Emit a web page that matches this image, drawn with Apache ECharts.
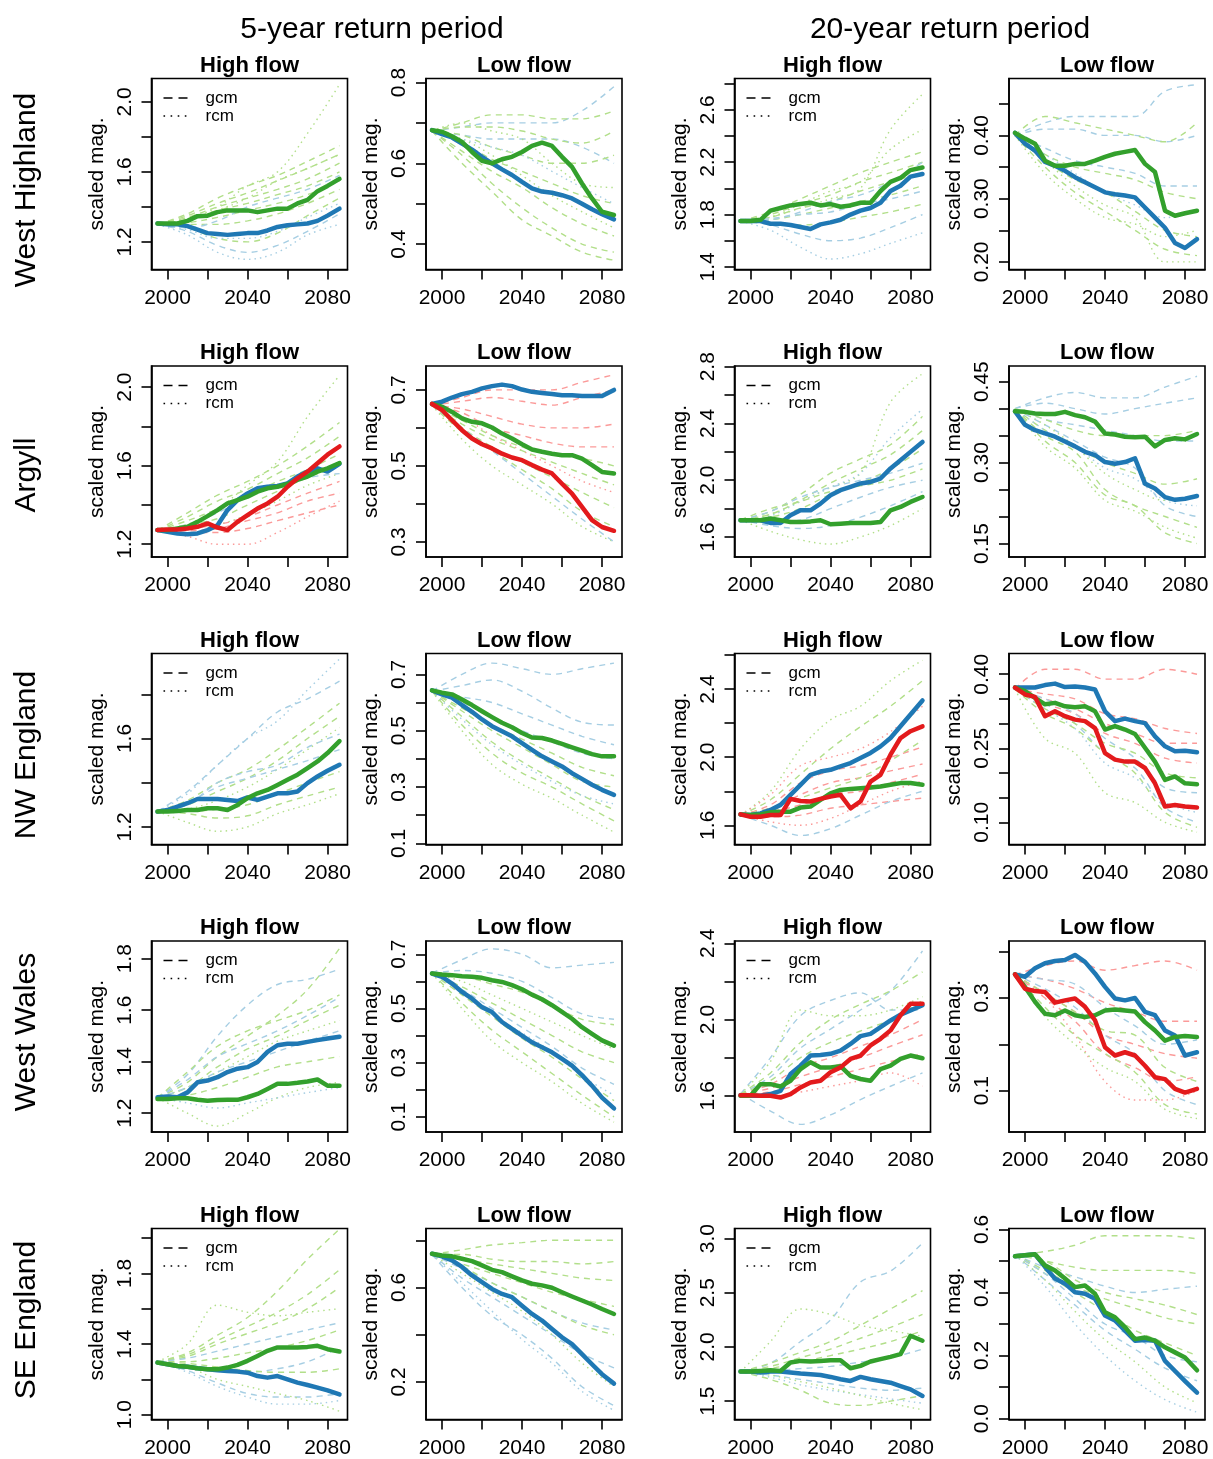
<!DOCTYPE html>
<html>
<head>
<meta charset="utf-8">
<title>Scaled flow magnitudes</title>
<script src="https://cdn.jsdelivr.net/npm/echarts@6/dist/echarts.min.js"></script>
<style>
  html, body { margin: 0; padding: 0; background: #fff; }
  #main { width: 1213px; height: 1459px; }
</style>
</head>
<body>
<div id="main"></div>
<script>
// years of the thick lines
var YEARS = [1995, 2000, 2005, 2010, 2015, 2020, 2025, 2030, 2035, 2040, 2045, 2050, 2055, 2060, 2065, 2070, 2075, 2080, 2086];
// years at which the thin member lines were read
var ENS_YEARS = [1995, 2010, 2025, 2040, 2055, 2070, 2086];
var X_TICKS = [2000, 2020, 2040, 2060, 2080];
var X_LABELS = [2000, 2040, 2080];
var ROW_NAMES = ['West Highland', 'Argyll', 'NW England', 'West Wales', 'SE England'];
var COL_TITLES = ['High flow', 'Low flow', 'High flow', 'Low flow'];
var PERIODS = ['5-year return period', '20-year return period'];

// ---- West Highland ----
var wh5H_blue = [1.305, 1.30, 1.30, 1.29, 1.27, 1.25, 1.245, 1.24, 1.245, 1.25, 1.25, 1.265, 1.285, 1.295, 1.30, 1.305, 1.32, 1.35, 1.39];
var wh5H_green = [1.305, 1.305, 1.305, 1.32, 1.347, 1.35, 1.37, 1.38, 1.38, 1.38, 1.37, 1.38, 1.39, 1.39, 1.42, 1.44, 1.49, 1.52, 1.56];
var wh5H_ens = [
  ['g', 'gcm', [1.3, 1.36, 1.45, 1.52, 1.58, 1.66, 1.75]],
  ['g', 'gcm', [1.3, 1.35, 1.42, 1.48, 1.55, 1.62, 1.70]],
  ['g', 'gcm', [1.3, 1.34, 1.40, 1.45, 1.50, 1.56, 1.65]],
  ['g', 'gcm', [1.3, 1.33, 1.38, 1.42, 1.47, 1.52, 1.60]],
  ['g', 'gcm', [1.3, 1.31, 1.34, 1.38, 1.42, 1.47, 1.55]],
  ['g', 'gcm', [1.3, 1.30, 1.30, 1.32, 1.36, 1.42, 1.50]],
  ['g', 'gcm', [1.3, 1.28, 1.22, 1.20, 1.25, 1.35, 1.45]],
  ['g', 'rcm', [1.3, 1.33, 1.40, 1.52, 1.60, 1.82, 2.10]],
  ['g', 'rcm', [1.3, 1.32, 1.38, 1.45, 1.55, 1.62, 1.70]],
  ['b', 'gcm', [1.3, 1.28, 1.32, 1.40, 1.45, 1.50, 1.58]],
  ['b', 'gcm', [1.3, 1.26, 1.18, 1.14, 1.18, 1.26, 1.36]],
  ['b', 'rcm', [1.3, 1.24, 1.14, 1.10, 1.14, 1.24, 1.30]],
  ['b', 'rcm', [1.3, 1.27, 1.22, 1.22, 1.26, 1.34, 1.42]]
];
var wh5L_blue = [0.682, 0.672, 0.664, 0.649, 0.634, 0.616, 0.60, 0.585, 0.571, 0.554, 0.538, 0.53, 0.527, 0.521, 0.513, 0.50, 0.486, 0.474, 0.461];
var wh5L_green = [0.682, 0.678, 0.667, 0.653, 0.628, 0.606, 0.60, 0.61, 0.616, 0.628, 0.643, 0.651, 0.643, 0.616, 0.591, 0.55, 0.513, 0.48, 0.472];
var wh5L_ens = [
  ['b', 'gcm', [0.68, 0.69, 0.70, 0.70, 0.70, 0.73, 0.79]],
  ['b', 'gcm', [0.68, 0.67, 0.66, 0.66, 0.66, 0.64, 0.60]],
  ['g', 'gcm', [0.68, 0.70, 0.72, 0.72, 0.71, 0.71, 0.73]],
  ['g', 'gcm', [0.68, 0.69, 0.69, 0.68, 0.66, 0.65, 0.68]],
  ['g', 'gcm', [0.68, 0.67, 0.64, 0.62, 0.60, 0.60, 0.62]],
  ['g', 'gcm', [0.68, 0.65, 0.61, 0.58, 0.55, 0.52, 0.50]],
  ['g', 'gcm', [0.68, 0.63, 0.58, 0.54, 0.49, 0.45, 0.42]],
  ['g', 'gcm', [0.68, 0.62, 0.55, 0.49, 0.44, 0.40, 0.38]],
  ['g', 'gcm', [0.68, 0.60, 0.53, 0.46, 0.42, 0.38, 0.36]],
  ['g', 'rcm', [0.68, 0.66, 0.62, 0.57, 0.52, 0.48, 0.44]],
  ['g', 'rcm', [0.68, 0.70, 0.68, 0.66, 0.60, 0.55, 0.54]],
  ['b', 'rcm', [0.68, 0.66, 0.64, 0.62, 0.58, 0.54, 0.50]]
];
var wh20H_blue = [1.75, 1.75, 1.75, 1.73, 1.73, 1.72, 1.705, 1.69, 1.725, 1.74, 1.76, 1.80, 1.83, 1.85, 1.89, 1.98, 2.02, 2.09, 2.11];
var wh20H_green = [1.75, 1.75, 1.76, 1.83, 1.85, 1.87, 1.88, 1.89, 1.87, 1.88, 1.86, 1.87, 1.89, 1.89, 1.98, 2.05, 2.08, 2.14, 2.16];
var wh20H_ens = [
  ['g', 'rcm', [1.75, 1.78, 1.85, 1.92, 2.00, 2.45, 2.72]],
  ['g', 'rcm', [1.75, 1.78, 1.88, 1.98, 2.05, 2.30, 2.45]],
  ['g', 'gcm', [1.75, 1.82, 1.92, 2.02, 2.12, 2.20, 2.28]],
  ['g', 'gcm', [1.75, 1.80, 1.88, 1.95, 2.05, 2.12, 2.20]],
  ['g', 'gcm', [1.75, 1.78, 1.85, 1.90, 1.98, 2.05, 2.12]],
  ['g', 'gcm', [1.75, 1.76, 1.80, 1.85, 1.90, 1.95, 2.02]],
  ['g', 'gcm', [1.75, 1.74, 1.72, 1.74, 1.78, 1.82, 1.88]],
  ['b', 'gcm', [1.75, 1.72, 1.65, 1.60, 1.62, 1.70, 1.80]],
  ['b', 'rcm', [1.75, 1.68, 1.55, 1.46, 1.50, 1.58, 1.66]],
  ['b', 'gcm', [1.75, 1.77, 1.80, 1.82, 1.88, 1.92, 1.98]],
  ['b', 'gcm', [1.75, 1.76, 1.82, 1.90, 1.95, 2.05, 2.20]]
];
var wh20L_blue = [0.404, 0.387, 0.376, 0.358, 0.352, 0.344, 0.334, 0.326, 0.318, 0.31, 0.307, 0.305, 0.302, 0.286, 0.27, 0.254, 0.23, 0.222, 0.236];
var wh20L_green = [0.404, 0.395, 0.387, 0.36, 0.352, 0.352, 0.355, 0.355, 0.36, 0.366, 0.371, 0.374, 0.377, 0.355, 0.342, 0.281, 0.273, 0.277, 0.281];
var wh20L_ens = [
  ['b', 'gcm', [0.40, 0.42, 0.43, 0.43, 0.43, 0.47, 0.48]],
  ['b', 'gcm', [0.40, 0.41, 0.41, 0.40, 0.40, 0.39, 0.40]],
  ['b', 'gcm', [0.40, 0.38, 0.36, 0.35, 0.34, 0.32, 0.32]],
  ['g', 'gcm', [0.40, 0.43, 0.42, 0.41, 0.40, 0.39, 0.42]],
  ['g', 'gcm', [0.40, 0.37, 0.35, 0.34, 0.33, 0.31, 0.30]],
  ['g', 'gcm', [0.40, 0.36, 0.33, 0.31, 0.28, 0.25, 0.24]],
  ['g', 'gcm', [0.40, 0.35, 0.31, 0.28, 0.25, 0.22, 0.21]],
  ['g', 'rcm', [0.40, 0.34, 0.30, 0.27, 0.26, 0.24, 0.25]],
  ['g', 'rcm', [0.40, 0.36, 0.32, 0.29, 0.27, 0.20, 0.20]],
  ['b', 'rcm', [0.40, 0.37, 0.34, 0.31, 0.29, 0.27, 0.28]]
];

// ---- Argyll ----
var ar5H_blue = [1.272, 1.263, 1.255, 1.251, 1.255, 1.272, 1.297, 1.374, 1.425, 1.459, 1.485, 1.493, 1.497, 1.51, 1.545, 1.57, 1.587, 1.57, 1.61];
var ar5H_green = [1.272, 1.272, 1.28, 1.289, 1.314, 1.343, 1.374, 1.408, 1.425, 1.442, 1.468, 1.485, 1.493, 1.507, 1.528, 1.545, 1.57, 1.587, 1.613];
var ar5H_red = [1.272, 1.275, 1.275, 1.28, 1.289, 1.306, 1.285, 1.272, 1.314, 1.348, 1.382, 1.408, 1.442, 1.493, 1.536, 1.57, 1.613, 1.656, 1.698];
var ar5H_ens = [
  ['g', 'rcm', [1.27, 1.30, 1.38, 1.50, 1.62, 1.85, 2.06]],
  ['g', 'gcm', [1.27, 1.36, 1.45, 1.52, 1.60, 1.70, 1.82]],
  ['g', 'gcm', [1.27, 1.34, 1.42, 1.48, 1.56, 1.64, 1.75]],
  ['g', 'gcm', [1.27, 1.32, 1.38, 1.45, 1.52, 1.58, 1.66]],
  ['g', 'gcm', [1.27, 1.30, 1.33, 1.40, 1.47, 1.54, 1.60]],
  ['g', 'rcm', [1.27, 1.29, 1.30, 1.35, 1.42, 1.50, 1.56]],
  ['r', 'gcm', [1.27, 1.28, 1.30, 1.34, 1.40, 1.46, 1.52]],
  ['r', 'gcm', [1.27, 1.27, 1.28, 1.32, 1.36, 1.42, 1.46]],
  ['r', 'gcm', [1.27, 1.26, 1.26, 1.28, 1.32, 1.36, 1.40]],
  ['r', 'rcm', [1.27, 1.24, 1.20, 1.20, 1.26, 1.34, 1.42]],
  ['b', 'gcm', [1.27, 1.30, 1.36, 1.44, 1.50, 1.54, 1.56]]
];
var ar5L_blue = [0.663, 0.669, 0.68, 0.689, 0.695, 0.704, 0.71, 0.714, 0.71, 0.701, 0.695, 0.692, 0.689, 0.686, 0.686, 0.684, 0.684, 0.684, 0.70];
var ar5L_green = [0.663, 0.656, 0.642, 0.625, 0.616, 0.612, 0.601, 0.585, 0.572, 0.557, 0.543, 0.537, 0.532, 0.528, 0.528, 0.519, 0.502, 0.484, 0.48];
var ar5L_red = [0.663, 0.647, 0.62, 0.594, 0.572, 0.557, 0.546, 0.532, 0.522, 0.515, 0.502, 0.49, 0.48, 0.453, 0.427, 0.392, 0.357, 0.339, 0.329];
var ar5L_ens = [
  ['r', 'gcm', [0.66, 0.68, 0.70, 0.70, 0.70, 0.72, 0.74]],
  ['r', 'gcm', [0.66, 0.67, 0.68, 0.67, 0.66, 0.68, 0.70]],
  ['r', 'gcm', [0.66, 0.65, 0.63, 0.61, 0.60, 0.60, 0.61]],
  ['r', 'gcm', [0.66, 0.64, 0.60, 0.58, 0.56, 0.55, 0.55]],
  ['r', 'rcm', [0.66, 0.63, 0.58, 0.54, 0.50, 0.46, 0.43]],
  ['g', 'gcm', [0.66, 0.61, 0.57, 0.54, 0.51, 0.48, 0.45]],
  ['g', 'gcm', [0.66, 0.60, 0.55, 0.51, 0.47, 0.43, 0.39]],
  ['g', 'gcm', [0.66, 0.59, 0.54, 0.49, 0.44, 0.38, 0.34]],
  ['g', 'rcm', [0.66, 0.57, 0.50, 0.45, 0.40, 0.34, 0.30]],
  ['b', 'gcm', [0.66, 0.60, 0.54, 0.48, 0.42, 0.36, 0.30]],
  ['g', 'gcm', [0.66, 0.62, 0.58, 0.55, 0.53, 0.52, 0.50]]
];
var ar20H_blue = [1.718, 1.718, 1.718, 1.699, 1.699, 1.753, 1.788, 1.788, 1.835, 1.894, 1.93, 1.953, 1.977, 1.988, 2.012, 2.083, 2.141, 2.2, 2.27];
var ar20H_green = [1.718, 1.718, 1.718, 1.73, 1.718, 1.706, 1.706, 1.71, 1.718, 1.69, 1.694, 1.699, 1.699, 1.699, 1.706, 1.788, 1.812, 1.847, 1.882];
var ar20H_ens = [
  ['g', 'rcm', [1.72, 1.76, 1.85, 1.95, 2.05, 2.55, 2.75]],
  ['b', 'rcm', [1.72, 1.75, 1.85, 1.95, 2.05, 2.30, 2.50]],
  ['g', 'gcm', [1.72, 1.78, 1.90, 2.05, 2.15, 2.25, 2.45]],
  ['g', 'gcm', [1.72, 1.76, 1.86, 1.98, 2.08, 2.18, 2.35]],
  ['g', 'gcm', [1.72, 1.74, 1.80, 1.90, 1.98, 2.08, 2.22]],
  ['b', 'gcm', [1.72, 1.78, 1.88, 1.95, 2.00, 2.05, 2.12]],
  ['b', 'gcm', [1.72, 1.70, 1.72, 1.80, 1.88, 1.95, 2.00]],
  ['b', 'gcm', [1.72, 1.68, 1.66, 1.68, 1.74, 1.82, 1.92]],
  ['g', 'rcm', [1.72, 1.64, 1.58, 1.55, 1.60, 1.68, 1.80]],
  ['g', 'gcm', [1.72, 1.80, 1.85, 1.92, 1.96, 2.00, 2.08]]
];
var ar20L_blue = [0.395, 0.37, 0.36, 0.354, 0.348, 0.339, 0.33, 0.32, 0.314, 0.301, 0.298, 0.301, 0.308, 0.261, 0.252, 0.236, 0.231, 0.233, 0.238];
var ar20L_green = [0.395, 0.394, 0.391, 0.39, 0.39, 0.394, 0.388, 0.384, 0.376, 0.354, 0.352, 0.348, 0.347, 0.348, 0.33, 0.342, 0.345, 0.343, 0.353];
var ar20L_ens = [
  ['b', 'gcm', [0.40, 0.42, 0.43, 0.42, 0.42, 0.44, 0.46]],
  ['b', 'gcm', [0.40, 0.41, 0.40, 0.39, 0.40, 0.41, 0.42]],
  ['b', 'gcm', [0.40, 0.38, 0.37, 0.36, 0.35, 0.34, 0.34]],
  ['g', 'gcm', [0.40, 0.38, 0.36, 0.35, 0.35, 0.35, 0.36]],
  ['g', 'gcm', [0.40, 0.36, 0.33, 0.30, 0.28, 0.26, 0.27]],
  ['g', 'gcm', [0.40, 0.35, 0.32, 0.25, 0.22, 0.20, 0.18]],
  ['g', 'gcm', [0.40, 0.34, 0.30, 0.24, 0.22, 0.17, 0.15]],
  ['g', 'rcm', [0.40, 0.33, 0.29, 0.23, 0.21, 0.18, 0.16]],
  ['b', 'rcm', [0.40, 0.36, 0.33, 0.29, 0.27, 0.23, 0.22]],
  ['b', 'gcm', [0.40, 0.37, 0.34, 0.31, 0.29, 0.22, 0.20]],
  ['g', 'rcm', [0.40, 0.37, 0.33, 0.28, 0.25, 0.23, 0.24]]
];

// ---- NW England ----
var nw5H_blue = [1.269, 1.276, 1.292, 1.307, 1.326, 1.326, 1.326, 1.322, 1.317, 1.333, 1.322, 1.337, 1.352, 1.352, 1.36, 1.398, 1.428, 1.454, 1.481];
var nw5H_green = [1.269, 1.269, 1.272, 1.276, 1.276, 1.284, 1.284, 1.276, 1.299, 1.33, 1.352, 1.367, 1.39, 1.413, 1.436, 1.466, 1.496, 1.534, 1.588];
var nw5H_ens = [
  ['b', 'rcm', [1.27, 1.35, 1.48, 1.60, 1.68, 1.82, 1.96]],
  ['b', 'gcm', [1.27, 1.36, 1.48, 1.60, 1.72, 1.78, 1.86]],
  ['g', 'gcm', [1.27, 1.32, 1.40, 1.46, 1.55, 1.65, 1.76]],
  ['g', 'gcm', [1.27, 1.30, 1.36, 1.42, 1.50, 1.60, 1.70]],
  ['g', 'rcm', [1.27, 1.28, 1.32, 1.38, 1.46, 1.55, 1.65]],
  ['b', 'gcm', [1.27, 1.31, 1.38, 1.42, 1.46, 1.50, 1.55]],
  ['g', 'gcm', [1.27, 1.27, 1.28, 1.30, 1.35, 1.40, 1.45]],
  ['g', 'gcm', [1.27, 1.26, 1.24, 1.25, 1.30, 1.34, 1.38]],
  ['g', 'rcm', [1.27, 1.22, 1.18, 1.20, 1.26, 1.30, 1.35]],
  ['b', 'gcm', [1.27, 1.30, 1.40, 1.45, 1.48, 1.56, 1.62]]
];
var nw5L_blue = [0.643, 0.629, 0.617, 0.591, 0.567, 0.54, 0.516, 0.498, 0.48, 0.456, 0.432, 0.409, 0.391, 0.373, 0.349, 0.329, 0.308, 0.29, 0.272];
var nw5L_green = [0.643, 0.635, 0.629, 0.611, 0.591, 0.569, 0.548, 0.528, 0.512, 0.492, 0.476, 0.474, 0.465, 0.453, 0.441, 0.429, 0.417, 0.409, 0.409];
var nw5L_ens = [
  ['b', 'gcm', [0.64, 0.70, 0.74, 0.72, 0.70, 0.72, 0.74]],
  ['b', 'gcm', [0.64, 0.66, 0.68, 0.64, 0.58, 0.53, 0.52]],
  ['b', 'gcm', [0.64, 0.62, 0.60, 0.56, 0.52, 0.48, 0.45]],
  ['b', 'gcm', [0.64, 0.60, 0.55, 0.50, 0.46, 0.42, 0.40]],
  ['g', 'gcm', [0.64, 0.57, 0.50, 0.44, 0.38, 0.32, 0.30]],
  ['g', 'gcm', [0.64, 0.55, 0.46, 0.39, 0.33, 0.27, 0.22]],
  ['g', 'gcm', [0.64, 0.52, 0.42, 0.35, 0.30, 0.24, 0.18]],
  ['g', 'rcm', [0.64, 0.50, 0.38, 0.31, 0.26, 0.20, 0.14]],
  ['b', 'rcm', [0.64, 0.54, 0.45, 0.38, 0.32, 0.27, 0.24]],
  ['g', 'gcm', [0.64, 0.58, 0.52, 0.47, 0.42, 0.37, 0.34]]
];
var nw20H_blue = [1.664, 1.66, 1.67, 1.69, 1.72, 1.779, 1.838, 1.897, 1.916, 1.926, 1.946, 1.966, 1.995, 2.025, 2.064, 2.113, 2.182, 2.251, 2.334];
var nw20H_green = [1.664, 1.66, 1.664, 1.676, 1.68, 1.68, 1.704, 1.71, 1.749, 1.788, 1.808, 1.814, 1.818, 1.822, 1.828, 1.838, 1.848, 1.848, 1.838];
var nw20H_red = [1.664, 1.65, 1.65, 1.66, 1.66, 1.755, 1.743, 1.74, 1.755, 1.769, 1.779, 1.70, 1.74, 1.857, 1.897, 2.015, 2.113, 2.153, 2.182];
var nw20H_ens = [
  ['g', 'rcm', [1.66, 1.80, 2.05, 2.22, 2.30, 2.45, 2.57]],
  ['g', 'gcm', [1.66, 1.75, 1.90, 2.05, 2.18, 2.30, 2.45]],
  ['r', 'rcm', [1.66, 1.78, 1.95, 2.00, 2.05, 2.15, 2.30]],
  ['r', 'gcm', [1.66, 1.72, 1.85, 1.92, 1.95, 2.00, 2.06]],
  ['r', 'gcm', [1.66, 1.70, 1.78, 1.85, 1.88, 1.92, 1.96]],
  ['r', 'gcm', [1.66, 1.68, 1.72, 1.78, 1.80, 1.85, 1.90]],
  ['r', 'gcm', [1.66, 1.65, 1.66, 1.70, 1.72, 1.74, 1.76]],
  ['b', 'gcm', [1.66, 1.60, 1.54, 1.58, 1.66, 1.74, 1.80]],
  ['g', 'gcm', [1.66, 1.70, 1.76, 1.82, 1.88, 1.98, 2.10]],
  ['r', 'rcm', [1.66, 1.62, 1.60, 1.64, 1.72, 1.80, 1.86]]
];
var nw20L_blue = [0.373, 0.373, 0.373, 0.378, 0.381, 0.374, 0.375, 0.373, 0.369, 0.325, 0.305, 0.31, 0.305, 0.301, 0.274, 0.254, 0.244, 0.245, 0.242];
var nw20L_green = [0.373, 0.366, 0.352, 0.339, 0.342, 0.335, 0.333, 0.335, 0.325, 0.288, 0.295, 0.288, 0.279, 0.251, 0.223, 0.186, 0.193, 0.179, 0.177];
var nw20L_red = [0.373, 0.359, 0.354, 0.315, 0.325, 0.315, 0.308, 0.305, 0.291, 0.24, 0.227, 0.223, 0.223, 0.21, 0.179, 0.132, 0.135, 0.132, 0.13];
var nw20L_ens = [
  ['r', 'gcm', [0.37, 0.41, 0.41, 0.39, 0.39, 0.41, 0.40]],
  ['r', 'gcm', [0.37, 0.36, 0.35, 0.32, 0.31, 0.29, 0.28]],
  ['r', 'gcm', [0.37, 0.35, 0.33, 0.30, 0.28, 0.26, 0.26]],
  ['r', 'gcm', [0.37, 0.34, 0.32, 0.28, 0.26, 0.23, 0.22]],
  ['b', 'gcm', [0.37, 0.34, 0.30, 0.24, 0.21, 0.13, 0.10]],
  ['g', 'gcm', [0.37, 0.32, 0.29, 0.24, 0.20, 0.12, 0.09]],
  ['g', 'rcm', [0.37, 0.27, 0.24, 0.16, 0.14, 0.10, 0.08]],
  ['b', 'gcm', [0.37, 0.35, 0.32, 0.27, 0.23, 0.17, 0.16]],
  ['g', 'gcm', [0.37, 0.33, 0.30, 0.26, 0.24, 0.20, 0.19]],
  ['b', 'rcm', [0.37, 0.33, 0.29, 0.22, 0.19, 0.14, 0.12]]
];

// ---- West Wales ----
var ww5H_blue = [1.262, 1.265, 1.262, 1.281, 1.32, 1.327, 1.34, 1.36, 1.373, 1.379, 1.399, 1.438, 1.464, 1.47, 1.47, 1.477, 1.484, 1.49, 1.497];
var ww5H_green = [1.255, 1.255, 1.258, 1.258, 1.252, 1.248, 1.251, 1.252, 1.252, 1.262, 1.275, 1.294, 1.314, 1.314, 1.318, 1.323, 1.331, 1.307, 1.307];
var ww5H_ens = [
  ['g', 'gcm', [1.26, 1.32, 1.42, 1.50, 1.58, 1.68, 1.84]],
  ['b', 'gcm', [1.26, 1.35, 1.50, 1.62, 1.70, 1.72, 1.76]],
  ['g', 'gcm', [1.26, 1.36, 1.46, 1.52, 1.56, 1.60, 1.66]],
  ['g', 'gcm', [1.26, 1.30, 1.38, 1.45, 1.50, 1.56, 1.62]],
  ['g', 'rcm', [1.26, 1.30, 1.36, 1.42, 1.48, 1.52, 1.56]],
  ['b', 'gcm', [1.26, 1.30, 1.36, 1.40, 1.44, 1.48, 1.52]],
  ['g', 'gcm', [1.26, 1.27, 1.30, 1.34, 1.38, 1.40, 1.42]],
  ['g', 'rcm', [1.26, 1.20, 1.15, 1.20, 1.26, 1.30, 1.32]],
  ['b', 'rcm', [1.26, 1.24, 1.22, 1.24, 1.26, 1.28, 1.30]],
  ['b', 'gcm', [1.26, 1.33, 1.42, 1.47, 1.52, 1.58, 1.65]]
];
var ww5L_blue = [0.629, 0.617, 0.592, 0.561, 0.536, 0.505, 0.487, 0.45, 0.425, 0.40, 0.375, 0.357, 0.338, 0.314, 0.289, 0.254, 0.215, 0.171, 0.131];
var ww5L_green = [0.629, 0.625, 0.623, 0.619, 0.617, 0.613, 0.604, 0.598, 0.586, 0.571, 0.551, 0.534, 0.512, 0.487, 0.462, 0.431, 0.406, 0.382, 0.363];
var ww5L_ens = [
  ['b', 'gcm', [0.63, 0.68, 0.72, 0.70, 0.65, 0.66, 0.67]],
  ['b', 'gcm', [0.63, 0.64, 0.63, 0.60, 0.54, 0.48, 0.46]],
  ['g', 'gcm', [0.63, 0.62, 0.59, 0.56, 0.51, 0.46, 0.44]],
  ['g', 'gcm', [0.63, 0.58, 0.52, 0.46, 0.40, 0.34, 0.30]],
  ['b', 'gcm', [0.63, 0.57, 0.50, 0.43, 0.36, 0.28, 0.22]],
  ['g', 'gcm', [0.63, 0.55, 0.47, 0.39, 0.32, 0.24, 0.16]],
  ['g', 'gcm', [0.63, 0.52, 0.42, 0.34, 0.26, 0.18, 0.10]],
  ['g', 'rcm', [0.63, 0.50, 0.38, 0.30, 0.23, 0.15, 0.08]],
  ['b', 'rcm', [0.63, 0.56, 0.48, 0.41, 0.34, 0.25, 0.18]],
  ['g', 'rcm', [0.63, 0.60, 0.55, 0.50, 0.45, 0.40, 0.35]]
];
var ww20H_blue = [1.603, 1.60, 1.60, 1.609, 1.626, 1.714, 1.758, 1.811, 1.814, 1.82, 1.837, 1.872, 1.913, 1.925, 1.96, 1.995, 2.025, 2.048, 2.075];
var ww20H_green = [1.60, 1.60, 1.661, 1.661, 1.649, 1.679, 1.74, 1.776, 1.749, 1.749, 1.755, 1.705, 1.688, 1.679, 1.74, 1.758, 1.793, 1.811, 1.797];
var ww20H_red = [1.603, 1.603, 1.60, 1.60, 1.591, 1.609, 1.644, 1.67, 1.679, 1.723, 1.749, 1.793, 1.811, 1.864, 1.899, 1.943, 2.022, 2.083, 2.083];
var ww20H_ens = [
  ['b', 'gcm', [1.61, 1.70, 1.85, 1.95, 2.05, 2.15, 2.36]],
  ['g', 'gcm', [1.61, 1.72, 1.88, 2.00, 2.08, 2.15, 2.25]],
  ['b', 'gcm', [1.61, 1.80, 2.02, 2.10, 2.14, 2.05, 2.05]],
  ['g', 'rcm', [1.61, 1.78, 2.05, 2.02, 2.02, 2.05, 2.12]],
  ['r', 'gcm', [1.61, 1.66, 1.75, 1.80, 1.86, 1.92, 2.00]],
  ['r', 'gcm', [1.61, 1.64, 1.70, 1.75, 1.80, 1.86, 1.92]],
  ['r', 'gcm', [1.61, 1.62, 1.66, 1.70, 1.74, 1.78, 1.82]],
  ['r', 'rcm', [1.61, 1.60, 1.62, 1.65, 1.68, 1.72, 1.65]],
  ['b', 'gcm', [1.61, 1.52, 1.45, 1.50, 1.58, 1.65, 1.72]],
  ['g', 'gcm', [1.61, 1.68, 1.80, 1.88, 1.94, 2.00, 2.10]]
];
var ww20L_blue = [0.351, 0.346, 0.364, 0.375, 0.38, 0.382, 0.393, 0.378, 0.353, 0.324, 0.299, 0.295, 0.30, 0.27, 0.263, 0.23, 0.219, 0.176, 0.183];
var ww20L_green = [0.351, 0.324, 0.292, 0.266, 0.263, 0.273, 0.263, 0.259, 0.263, 0.273, 0.275, 0.273, 0.271, 0.248, 0.23, 0.208, 0.216, 0.218, 0.216];
var ww20L_red = [0.351, 0.32, 0.315, 0.313, 0.29, 0.295, 0.299, 0.281, 0.252, 0.194, 0.176, 0.183, 0.176, 0.154, 0.129, 0.125, 0.104, 0.096, 0.104];
var ww20L_ens = [
  ['r', 'gcm', [0.35, 0.37, 0.38, 0.36, 0.37, 0.38, 0.36]],
  ['r', 'gcm', [0.35, 0.34, 0.32, 0.29, 0.27, 0.25, 0.25]],
  ['r', 'gcm', [0.35, 0.31, 0.27, 0.22, 0.20, 0.18, 0.17]],
  ['r', 'rcm', [0.35, 0.30, 0.22, 0.12, 0.08, 0.08, 0.10]],
  ['r', 'gcm', [0.35, 0.30, 0.25, 0.18, 0.15, 0.12, 0.13]],
  ['g', 'gcm', [0.35, 0.28, 0.22, 0.18, 0.14, 0.07, 0.05]],
  ['g', 'rcm', [0.35, 0.26, 0.20, 0.15, 0.12, 0.06, 0.04]],
  ['b', 'gcm', [0.35, 0.32, 0.28, 0.22, 0.18, 0.10, 0.07]],
  ['b', 'gcm', [0.35, 0.34, 0.33, 0.28, 0.24, 0.20, 0.21]],
  ['g', 'gcm', [0.35, 0.31, 0.27, 0.23, 0.22, 0.15, 0.12]]
];

// ---- SE England ----
var se5H_blue = [1.295, 1.286, 1.276, 1.271, 1.263, 1.257, 1.252, 1.248, 1.244, 1.238, 1.219, 1.21, 1.219, 1.20, 1.182, 1.168, 1.153, 1.138, 1.115];
var se5H_green = [1.295, 1.286, 1.276, 1.271, 1.263, 1.257, 1.257, 1.267, 1.282, 1.305, 1.333, 1.362, 1.381, 1.381, 1.381, 1.384, 1.39, 1.371, 1.358];
var se5H_ens = [
  ['g', 'gcm', [1.30, 1.35, 1.45, 1.55, 1.70, 1.88, 2.05]],
  ['g', 'rcm', [1.30, 1.40, 1.62, 1.58, 1.56, 1.58, 1.60]],
  ['g', 'gcm', [1.30, 1.34, 1.42, 1.50, 1.58, 1.68, 1.82]],
  ['g', 'gcm', [1.30, 1.33, 1.40, 1.46, 1.52, 1.60, 1.72]],
  ['b', 'gcm', [1.30, 1.32, 1.36, 1.40, 1.44, 1.48, 1.52]],
  ['g', 'gcm', [1.30, 1.30, 1.32, 1.35, 1.38, 1.42, 1.48]],
  ['b', 'gcm', [1.30, 1.28, 1.25, 1.24, 1.26, 1.30, 1.38]],
  ['b', 'gcm', [1.30, 1.25, 1.18, 1.12, 1.10, 1.10, 1.12]],
  ['b', 'rcm', [1.30, 1.24, 1.16, 1.10, 1.06, 1.06, 1.08]],
  ['g', 'rcm', [1.30, 1.27, 1.20, 1.16, 1.12, 1.08, 1.02]],
  ['g', 'gcm', [1.30, 1.29, 1.27, 1.25, 1.24, 1.24, 1.26]]
];
var se5L_blue = [0.743, 0.732, 0.715, 0.687, 0.651, 0.623, 0.594, 0.573, 0.559, 0.523, 0.488, 0.46, 0.424, 0.389, 0.36, 0.318, 0.275, 0.233, 0.193];
var se5L_green = [0.743, 0.736, 0.732, 0.722, 0.712, 0.694, 0.675, 0.665, 0.647, 0.63, 0.616, 0.609, 0.599, 0.58, 0.562, 0.545, 0.528, 0.509, 0.488];
var se5L_ens = [
  ['g', 'gcm', [0.74, 0.76, 0.78, 0.79, 0.80, 0.80, 0.80]],
  ['g', 'gcm', [0.74, 0.74, 0.72, 0.71, 0.71, 0.70, 0.71]],
  ['g', 'gcm', [0.74, 0.72, 0.70, 0.68, 0.66, 0.64, 0.63]],
  ['g', 'gcm', [0.74, 0.70, 0.66, 0.62, 0.58, 0.55, 0.52]],
  ['b', 'gcm', [0.74, 0.68, 0.62, 0.56, 0.50, 0.45, 0.42]],
  ['b', 'gcm', [0.74, 0.64, 0.56, 0.48, 0.40, 0.32, 0.26]],
  ['b', 'gcm', [0.74, 0.60, 0.48, 0.40, 0.30, 0.18, 0.10]],
  ['b', 'rcm', [0.74, 0.62, 0.50, 0.38, 0.28, 0.16, 0.08]],
  ['g', 'rcm', [0.74, 0.66, 0.58, 0.50, 0.40, 0.28, 0.18]],
  ['g', 'gcm', [0.74, 0.69, 0.62, 0.56, 0.50, 0.44, 0.40]]
];
var se20H_blue = [1.772, 1.772, 1.763, 1.772, 1.772, 1.763, 1.754, 1.748, 1.741, 1.723, 1.701, 1.686, 1.723, 1.701, 1.686, 1.67, 1.639, 1.608, 1.547];
var se20H_green = [1.772, 1.772, 1.778, 1.785, 1.778, 1.856, 1.871, 1.865, 1.871, 1.877, 1.877, 1.803, 1.825, 1.865, 1.887, 1.908, 1.933, 2.103, 2.057];
var se20H_ens = [
  ['b', 'gcm', [1.77, 1.85, 2.05, 2.25, 2.60, 2.70, 2.96]],
  ['g', 'rcm', [1.77, 2.05, 2.35, 2.30, 2.20, 2.15, 2.10]],
  ['g', 'gcm', [1.77, 1.85, 1.95, 2.05, 2.20, 2.35, 2.52]],
  ['g', 'gcm', [1.77, 1.82, 1.90, 1.98, 2.08, 2.18, 2.30]],
  ['g', 'gcm', [1.77, 1.80, 1.86, 1.92, 1.98, 2.05, 2.15]],
  ['b', 'gcm', [1.77, 1.78, 1.80, 1.82, 1.86, 1.90, 1.98]],
  ['b', 'gcm', [1.77, 1.74, 1.70, 1.66, 1.62, 1.60, 1.62]],
  ['g', 'gcm', [1.77, 1.70, 1.60, 1.48, 1.46, 1.50, 1.55]],
  ['b', 'rcm', [1.77, 1.72, 1.65, 1.60, 1.56, 1.52, 1.48]],
  ['g', 'rcm', [1.77, 1.74, 1.68, 1.62, 1.55, 1.48, 1.42]]
];
var se20L_blue = [0.515, 0.518, 0.521, 0.481, 0.444, 0.428, 0.401, 0.396, 0.38, 0.327, 0.311, 0.279, 0.247, 0.249, 0.247, 0.183, 0.151, 0.119, 0.082];
var se20L_green = [0.515, 0.518, 0.521, 0.486, 0.47, 0.444, 0.417, 0.422, 0.396, 0.337, 0.321, 0.29, 0.252, 0.257, 0.247, 0.226, 0.21, 0.194, 0.153];
var se20L_ens = [
  ['g', 'gcm', [0.52, 0.53, 0.55, 0.58, 0.58, 0.58, 0.57]],
  ['g', 'gcm', [0.52, 0.50, 0.48, 0.47, 0.47, 0.47, 0.46]],
  ['b', 'gcm', [0.52, 0.48, 0.45, 0.42, 0.40, 0.41, 0.42]],
  ['g', 'gcm', [0.52, 0.47, 0.42, 0.38, 0.35, 0.32, 0.30]],
  ['g', 'gcm', [0.52, 0.46, 0.40, 0.34, 0.28, 0.24, 0.20]],
  ['b', 'gcm', [0.52, 0.44, 0.36, 0.28, 0.22, 0.16, 0.12]],
  ['b', 'rcm', [0.52, 0.42, 0.30, 0.20, 0.12, 0.06, 0.02]],
  ['g', 'rcm', [0.52, 0.44, 0.34, 0.25, 0.18, 0.10, 0.05]],
  ['b', 'gcm', [0.52, 0.46, 0.38, 0.30, 0.26, 0.20, 0.18]],
  ['g', 'gcm', [0.52, 0.50, 0.44, 0.40, 0.38, 0.36, 0.33]]
];

// panel table: axis range, ticks, labelled ticks, label decimals
var panels = [
  { row: 0, col: 0, min: 1.042, max: 2.134, ticks: [1.2, 1.4, 1.6, 1.8, 2.0], labels: [1.2, 1.6, 2.0], dec: 1, blue: wh5H_blue, green: wh5H_green, red: null, ens: wh5H_ens },
  { row: 0, col: 1, min: 0.337, max: 0.81, ticks: [0.4, 0.5, 0.6, 0.7, 0.8], labels: [0.4, 0.6, 0.8], dec: 1, blue: wh5L_blue, green: wh5L_green, red: null, ens: wh5L_ens },
  { row: 0, col: 2, min: 1.38, max: 2.84, ticks: [1.4, 1.6, 1.8, 2.0, 2.2, 2.4, 2.6, 2.8], labels: [1.4, 1.8, 2.2, 2.6], dec: 1, blue: wh20H_blue, green: wh20H_green, red: null, ens: wh20H_ens },
  { row: 0, col: 3, min: 0.188, max: 0.49, ticks: [0.20, 0.25, 0.30, 0.35, 0.40, 0.45], labels: [0.20, 0.30, 0.40], dec: 2, blue: wh20L_blue, green: wh20L_green, red: null, ens: wh20L_ens },
  { row: 1, col: 0, min: 1.135, max: 2.108, ticks: [1.2, 1.4, 1.6, 1.8, 2.0], labels: [1.2, 1.6, 2.0], dec: 1, blue: ar5H_blue, green: ar5H_green, red: ar5H_red, ens: ar5H_ens },
  { row: 1, col: 1, min: 0.26, max: 0.763, ticks: [0.3, 0.4, 0.5, 0.6, 0.7], labels: [0.3, 0.5, 0.7], dec: 1, blue: ar5L_blue, green: ar5L_green, red: ar5L_red, ens: ar5L_ens },
  { row: 1, col: 2, min: 1.459, max: 2.805, ticks: [1.6, 1.8, 2.0, 2.2, 2.4, 2.6, 2.8], labels: [1.6, 2.0, 2.4, 2.8], dec: 1, blue: ar20H_blue, green: ar20H_green, red: null, ens: ar20H_ens },
  { row: 1, col: 3, min: 0.125, max: 0.479, ticks: [0.15, 0.20, 0.25, 0.30, 0.35, 0.40, 0.45], labels: [0.15, 0.30, 0.45], dec: 2, blue: ar20L_blue, green: ar20L_green, red: null, ens: ar20L_ens },
  { row: 2, col: 0, min: 1.12, max: 1.985, ticks: [1.2, 1.4, 1.6, 1.8], labels: [1.2, 1.6], dec: 1, blue: nw5H_blue, green: nw5H_green, red: null, ens: nw5H_ens },
  { row: 2, col: 1, min: 0.096, max: 0.774, ticks: [0.1, 0.2, 0.3, 0.4, 0.5, 0.6, 0.7], labels: [0.1, 0.3, 0.5, 0.7], dec: 1, blue: nw5L_blue, green: nw5L_green, red: null, ens: nw5L_ens },
  { row: 2, col: 2, min: 1.487, max: 2.61, ticks: [1.6, 1.8, 2.0, 2.2, 2.4, 2.6], labels: [1.6, 2.0, 2.4], dec: 1, blue: nw20H_blue, green: nw20H_green, red: nw20H_red, ens: nw20H_ens },
  { row: 2, col: 3, min: 0.055, max: 0.442, ticks: [0.10, 0.15, 0.20, 0.25, 0.30, 0.35, 0.40], labels: [0.10, 0.25, 0.40], dec: 2, blue: nw20L_blue, green: nw20L_green, red: nw20L_red, ens: nw20L_ens },
  { row: 3, col: 0, min: 1.127, max: 1.869, ticks: [1.2, 1.4, 1.6, 1.8], labels: [1.2, 1.4, 1.6, 1.8], dec: 1, blue: ww5H_blue, green: ww5H_green, red: null, ens: ww5H_ens },
  { row: 3, col: 1, min: 0.044, max: 0.749, ticks: [0.1, 0.2, 0.3, 0.4, 0.5, 0.6, 0.7], labels: [0.1, 0.3, 0.5, 0.7], dec: 1, blue: ww5L_blue, green: ww5L_green, red: null, ens: ww5L_ens },
  { row: 3, col: 2, min: 1.41, max: 2.412, ticks: [1.6, 1.8, 2.0, 2.2, 2.4], labels: [1.6, 2.0, 2.4], dec: 1, blue: ww20H_blue, green: ww20H_green, red: ww20H_red, ens: ww20H_ens },
  { row: 3, col: 3, min: 0.011, max: 0.423, ticks: [0.1, 0.2, 0.3, 0.4], labels: [0.1, 0.3], dec: 1, blue: ww20L_blue, green: ww20L_green, red: ww20L_red, ens: ww20L_ens },
  { row: 4, col: 0, min: 0.973, max: 2.054, ticks: [1.0, 1.2, 1.4, 1.6, 1.8, 2.0], labels: [1.0, 1.4, 1.8], dec: 1, blue: se5H_blue, green: se5H_green, red: null, ens: se5H_ens },
  { row: 4, col: 1, min: 0.041, max: 0.85, ticks: [0.2, 0.4, 0.6, 0.8], labels: [0.2, 0.6], dec: 1, blue: se5L_blue, green: se5L_green, red: null, ens: se5L_ens },
  { row: 4, col: 2, min: 1.33, max: 3.093, ticks: [1.5, 2.0, 2.5, 3.0], labels: [1.5, 2.0, 2.5, 3.0], dec: 1, blue: se20H_blue, green: se20H_green, red: null, ens: se20H_ens },
  { row: 4, col: 3, min: -0.003, max: 0.603, ticks: [0.0, 0.1, 0.2, 0.3, 0.4, 0.5, 0.6], labels: [0.0, 0.2, 0.4, 0.6], dec: 1, blue: se20L_blue, green: se20L_green, red: null, ens: se20L_ens }
];

// layout
var COL_LEFT = [151.5, 426, 734.5, 1009];
var ROW_TOP = [78.5, 366, 653.5, 941, 1228.5];
var PW = 196, PH = 191;
var FONT = "'Liberation Sans', Arial, Helvetica, sans-serif";
var DARK = { b: '#1f78b4', g: '#33a02c', r: '#e31a1c' };
var LIGHT = { b: '#a6cee3', g: '#b2df8a', r: '#fb9a99' };

function pairs(xs, ys) {
  return xs.map(function (x, i) { return [x, ys[i]]; });
}

var grids = [], xAxes = [], yAxes = [], series = [], graphic = [];

panels.forEach(function (p, i) {
  var gx = COL_LEFT[p.col], gy = ROW_TOP[p.row];
  grids.push({
    left: gx, top: gy, width: PW, height: PH,
    show: true, borderColor: '#000', borderWidth: 1.6, backgroundColor: 'transparent'
  });
  xAxes.push({
    gridIndex: i, type: 'value', min: 1992, max: 2090,
    splitLine: { show: false },
    axisLine: { show: true, onZero: false, lineStyle: { color: '#000', width: 1.6 } },
    axisTick: { show: true, length: 10, customValues: X_TICKS, lineStyle: { color: '#000', width: 1.6 } },
    axisLabel: {
      customValues: X_LABELS, margin: 18, fontSize: 21, color: '#000', fontFamily: FONT,
      formatter: function (v) { return String(v); }
    }
  });
  yAxes.push({
    gridIndex: i, type: 'value', min: p.min, max: p.max,
    name: 'scaled mag.', nameLocation: 'middle', nameGap: 44,
    nameTextStyle: { fontSize: 21, color: '#000', fontFamily: FONT },
    splitLine: { show: false },
    axisLine: { show: true, onZero: false, lineStyle: { color: '#000', width: 1.6 } },
    axisTick: { show: true, length: 10, customValues: p.ticks, lineStyle: { color: '#000', width: 1.6 } },
    axisLabel: {
      customValues: p.labels, rotate: 90, margin: 16, fontSize: 21, color: '#000', fontFamily: FONT,
      formatter: (function (d) { return function (v) { return v.toFixed(d); }; })(p.dec)
    }
  });

  p.ens.forEach(function (e) {
    series.push({
      type: 'line', xAxisIndex: i, yAxisIndex: i, data: pairs(ENS_YEARS, e[2]),
      smooth: 0.35, symbol: 'none', silent: true, z: 1,
      lineStyle: { color: LIGHT[e[0]], width: 1.4, type: e[1] === 'gcm' ? [6, 5] : [1.5, 4] }
    });
  });
  [['b', p.blue], ['g', p.green], ['r', p.red]].forEach(function (s) {
    if (!s[1]) return;
    series.push({
      type: 'line', xAxisIndex: i, yAxisIndex: i, data: pairs(YEARS, s[1]),
      symbol: 'none', silent: true, z: 3,
      lineStyle: { color: DARK[s[0]], width: 4.5, join: 'round', cap: 'round' }
    });
  });

  // panel title
  graphic.push({
    type: 'text', x: gx + PW / 2, y: gy - 13, silent: true,
    style: { text: COL_TITLES[p.col], fontSize: 22, fontWeight: 'bold', fontFamily: FONT, fill: '#000', align: 'center', verticalAlign: 'middle' }
  });
  // gcm / rcm key in the high flow panels
  if (p.col === 0 || p.col === 2) {
    graphic.push({ type: 'line', silent: true, shape: { x1: gx + 12, y1: gy + 19.5, x2: gx + 39, y2: gy + 19.5 }, style: { stroke: '#000', lineWidth: 1.6, lineDash: [9, 6] } });
    graphic.push({ type: 'line', silent: true, shape: { x1: gx + 12, y1: gy + 37.5, x2: gx + 39, y2: gy + 37.5 }, style: { stroke: '#000', lineWidth: 1.6, lineDash: [1.6, 5.5] } });
    graphic.push({ type: 'text', silent: true, x: gx + 54, y: gy + 19.5, style: { text: 'gcm', fontSize: 17, fontFamily: FONT, fill: '#000', verticalAlign: 'middle' } });
    graphic.push({ type: 'text', silent: true, x: gx + 54, y: gy + 37.5, style: { text: 'rcm', fontSize: 17, fontFamily: FONT, fill: '#000', verticalAlign: 'middle' } });
  }
});

// return period headings and region names
[372, 950].forEach(function (cx, k) {
  graphic.push({ type: 'text', silent: true, x: cx, y: 30, style: { text: PERIODS[k], fontSize: 30, fontFamily: FONT, fill: '#000', align: 'center', verticalAlign: 'middle' } });
});
[190, 475, 755, 1032, 1320].forEach(function (cy, r) {
  graphic.push({ type: 'text', silent: true, x: 27, y: cy, rotation: Math.PI / 2, style: { text: ROW_NAMES[r], fontSize: 30, fontFamily: FONT, fill: '#000', align: 'center', verticalAlign: 'middle' } });
});

var myChart = echarts.init(document.getElementById('main'));
myChart.setOption({
  animation: false,
  backgroundColor: '#fff',
  grid: grids,
  xAxis: xAxes,
  yAxis: yAxes,
  series: series,
  graphic: graphic
});
</script>
</body>
</html>
